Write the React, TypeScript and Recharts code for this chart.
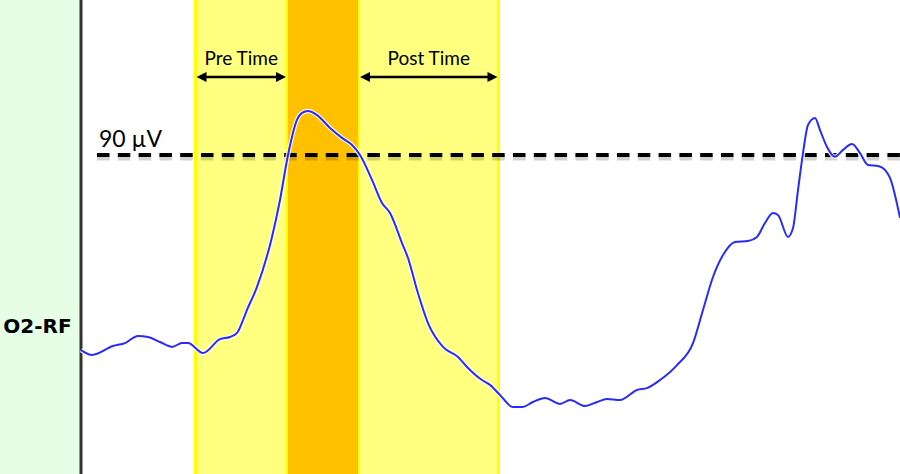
import React from "react";
import {
  ComposedChart,
  Line,
  XAxis,
  YAxis,
  ReferenceArea,
  ReferenceLine,
  ReferenceDot,
} from "recharts";

// time in ms from the start of the trace, amplitude in µV
const timesMs = [
  1, 12, 33, 45, 58, 68, 80, 92, 102, 108, 123, 140, 150, 157, 163, 167, 177,
  192, 200, 208, 217, 222, 228, 237, 250, 262, 272, 280, 292, 302, 310, 322,
  328, 337, 348, 363, 378, 387, 402, 410, 420, 433, 442, 453, 465, 480, 490,
  505, 517, 527, 540, 557, 567, 580, 597, 613, 623, 633, 643, 655, 668, 677,
  685, 693, 698, 708, 713, 718, 723, 728, 735, 740, 747, 755, 763, 772, 780,
  788, 798, 805, 810, 820,
];
const o2rfMicroVolts = [
  -2.4, -4.7, -0.5, 0.9, 4.3, 3.8, 1.4, -0.9, 0.9, 0.9, -3.8, 2.8, 3.8, 5.7,
  11.8, 16.6, 27.5, 51.2, 68.7, 90.0, 106.6, 109.9, 110.8, 108.9, 102.8, 98.1,
  94.7, 90.0, 78.2, 67.3, 62.5, 48.3, 41.2, 26.1, 10.4, -0.9, -5.7, -10.4,
  -16.6, -18.9, -23.7, -29.4, -29.4, -27.0, -25.1, -27.9, -26.1, -28.9, -27.0,
  -25.6, -26.1, -21.3, -20.4, -16.6, -9.5, 0.9, 16.6, 32.2, 42.6, 48.8, 49.3,
  51.2, 57.8, 62.5, 61.6, 51.2, 55.4, 73.4, 90.9, 104.2, 107.5, 101.8, 93.8,
  89.1, 92.4, 95.2, 90.9, 85.3, 84.8, 82.9, 79.1, 60.2,
];

const channelLabel = "O2-RF";
const thresholdUv = 90;
const preWindow = [115.5, 207];
const peakWindow = [207, 279];
const postWindow = [279, 418.5];

const data = timesMs.map((t, i) => ({ t, uv: o2rfMicroVolts[i] }));

const ARROW_Y = 126.9;

function DoubleArrow(props: any) {
  const { x1, y1, x2 } = props;
  const h = 10;
  const w = 5;
  return (
    <g>
      <line x1={x1 + h - 2} y1={y1} x2={x2 - h + 2} y2={y1} stroke="#000" strokeWidth={2.5} />
      <polygon points={`${x1},${y1} ${x1 + h},${y1 - w} ${x1 + h},${y1 + w}`} fill="#000" />
      <polygon points={`${x2},${y1} ${x2 - h},${y1 - w} ${x2 - h},${y1 + w}`} fill="#000" />
    </g>
  );
}

const textFont = "Lato, 'Liberation Sans', sans-serif";

export default function App() {
  return (
    <div style={{ position: "fixed", left: 0, top: 0, background: "#fff" }}>
      <ComposedChart
        width={900}
        height={474}
        data={data}
        margin={{ top: 0, right: 0, bottom: 0, left: 0 }}
      >
        <XAxis type="number" dataKey="t" domain={[-80, 820]} hide allowDataOverflow />
        <YAxis type="number" domain={[-61.1, 163.4]} hide allowDataOverflow />

        <ReferenceArea x1={-80} x2={0} fill="#e6fde6" fillOpacity={1} />
        <ReferenceArea x1={preWindow[0]} x2={postWindow[1]} fill="#ffff80" fillOpacity={1} />
        <ReferenceArea x1={peakWindow[0]} x2={peakWindow[1]} fill="#ffc000" fillOpacity={1} />

        <ReferenceLine x={1} stroke="#333" strokeWidth={3} />
        <ReferenceLine x={preWindow[0]} stroke="#ffff00" strokeWidth={3} />
        <ReferenceLine x={postWindow[1]} stroke="#ffff00" strokeWidth={3} />
        <ReferenceLine x={peakWindow[0]} stroke="#ffff00" strokeWidth={2} />
        <ReferenceLine x={peakWindow[1]} stroke="#ffff00" strokeWidth={2} />

        <ReferenceLine
          segment={[
            { x: 17, y: thresholdUv - 1.4 },
            { x: 820, y: thresholdUv - 1.4 },
          ]}
          stroke="#000"
          strokeOpacity={0.18}
          strokeWidth={5}
          strokeDasharray="12.5 8.3"
        />
        <ReferenceLine
          segment={[
            { x: 17, y: thresholdUv },
            { x: 820, y: thresholdUv },
          ]}
          stroke="#000"
          strokeWidth={4}
          strokeDasharray="12.5 8.3"
        />

        <ReferenceLine
          segment={[
            { x: preWindow[0] + 1, y: ARROW_Y },
            { x: preWindow[1] - 1, y: ARROW_Y },
          ]}
          shape={DoubleArrow}
          label={{ value: "Pre Time", position: "top", offset: 12, fill: "#000", fontSize: 19, fontFamily: textFont }}
        />
        <ReferenceLine
          segment={[
            { x: postWindow[0] + 1, y: ARROW_Y },
            { x: postWindow[1] - 1, y: ARROW_Y },
          ]}
          shape={DoubleArrow}
          label={{ value: "Post Time", position: "top", offset: 12, fill: "#000", fontSize: 19, fontFamily: textFont }}
        />

        <ReferenceDot
          x={50.5}
          y={97.8}
          r={0}
          stroke="none"
          fill="none"
          label={{ value: "90 µV", position: "center", fill: "#000", fontSize: 23, fontFamily: textFont }}
        />
        <ReferenceDot
          x={-42.5}
          y={9.2}
          r={0}
          stroke="none"
          fill="none"
          label={{
            value: channelLabel,
            position: "center",
            fill: "#000",
            fontSize: 20,
            fontWeight: "bold",
            fontFamily: "'DejaVu Sans', Verdana, sans-serif",
          }}
        />

        <Line
          type="monotone"
          dataKey="uv"
          stroke="#ffffff"
          strokeOpacity={0.85}
          strokeWidth={4.5}
          dot={false}
          activeDot={false}
          isAnimationActive={false}
        />
        <Line
          type="monotone"
          dataKey="uv"
          stroke="#2a2aff"
          strokeWidth={2}
          dot={false}
          activeDot={false}
          isAnimationActive={false}
        />
      </ComposedChart>
    </div>
  );
}
